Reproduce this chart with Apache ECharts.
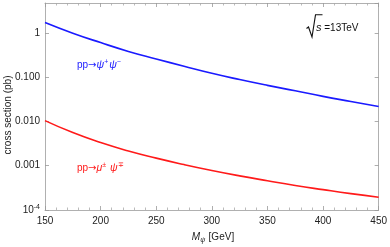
<!DOCTYPE html>
<html>
<head>
<meta charset="utf-8">
<script src="https://cdn.jsdelivr.net/npm/echarts@6/dist/echarts.min.js"></script>
<style>html,body{margin:0;padding:0;background:#fff}#c{width:390px;height:247px}</style>
</head>
<body>
<div id="c"></div>
<script>
var masses = [150, 175, 200, 225, 250, 275, 300, 325, 350, 375, 400, 425, 450];
var sigmaPair = [1.71, 0.98, 0.60, 0.38, 0.257, 0.176, 0.122, 0.088, 0.065, 0.049, 0.0367, 0.0281, 0.0216];
var sigmaAssoc = [0.0104, 0.00558, 0.00332, 0.00214, 0.00148, 0.00106, 0.00078, 0.00059, 0.000457, 0.000358, 0.000288, 0.000234, 0.000194];
var xTicks = [150, 200, 250, 300, 350, 400, 450];
var yTickLabels = {'0': '1', '-1': '0.100', '-2': '0.010', '-3': '0.001', '-4': '{b|10}{sup|-4}'};

var FONT = 'Liberation Sans';
var chart = echarts.init(document.getElementById('c'));
function pts(ys) { return masses.map(function (m, i) { return [m, ys[i]]; }); }
var frame = '#b0b0b0';
var tickStyle = { show: true, inside: true, length: 4, lineStyle: { color: '#999', width: 0.8 } };
var minorStyle = { show: true, splitNumber: 5, length: 2.5, lineStyle: { color: '#aaa', width: 0.8 } };
var BLUE = '#1a1aff', RED = '#ff1a1a';

function procRich(col) {
  return {
    n: { fontFamily: FONT, fontSize: 10, fill: col },
    a: { fontFamily: 'DejaVu Sans', fontSize: 10, fill: col },
    i: { fontFamily: FONT, fontSize: 10.5, fontStyle: 'italic', fill: col },
    p: { fontFamily: FONT, fontSize: 7, fill: col, verticalAlign: 'top', padding: [0, 1, 6, 0] }
  };
}

chart.setOption({
  animation: false,
  grid: { left: 45, right: 9, top: 3, bottom: 37 },
  xAxis: [{
    type: 'value', min: 150, max: 450, interval: 50,
    axisLine: { show: true, lineStyle: { color: frame, width: 1 } },
    axisTick: tickStyle, minorTick: minorStyle,
    splitLine: { show: false },
    axisLabel: { color: '#222', fontFamily: FONT, fontSize: 10, margin: 6,
      formatter: function (v) { return xTicks.indexOf(v) >= 0 ? String(v) : ''; } }
  }, {
    type: 'value', min: 150, max: 450, interval: 50, position: 'top',
    axisLine: { show: true, lineStyle: { color: frame, width: 1 } },
    axisTick: tickStyle, minorTick: minorStyle,
    splitLine: { show: false }, axisLabel: { show: false }
  }],
  yAxis: [{
    type: 'log', logBase: 10, min: 1e-4, max: 4.7,
    axisLine: { show: true, lineStyle: { color: frame, width: 1 } },
    axisTick: tickStyle, splitLine: { show: false },
    axisLabel: {
      color: '#222', fontFamily: FONT, fontSize: 10, margin: 5,
      showMaxLabel: false,
      formatter: function (v) {
        var k = Math.round(Math.log10(v));
        if (Math.abs(Math.log10(v) - k) > 1e-6) return '';
        return yTickLabels[String(k)] || '';
      },
      rich: {
        b: { fontFamily: FONT, fontSize: 10, color: '#222' },
        sup: { fontFamily: FONT, fontSize: 7, color: '#222', verticalAlign: 'top', padding: [0, 0, 6, 0] }
      }
    }
  }, {
    type: 'log', logBase: 10, min: 1e-4, max: 4.7, position: 'right',
    axisLine: { show: true, lineStyle: { color: frame, width: 1 } },
    axisTick: tickStyle, splitLine: { show: false }, axisLabel: { show: false }
  }],
  series: [{
    type: 'line', data: pts(sigmaPair), smooth: true, showSymbol: false,
    lineStyle: { color: BLUE, width: 1.6 }
  }, {
    type: 'line', data: pts(sigmaAssoc), smooth: true, showSymbol: false,
    lineStyle: { color: RED, width: 1.6 }
  }],
  graphic: [
    { type: 'text', x: 8, y: 115, rotation: Math.PI / 2,
      style: { text: 'cross section (pb)', fontFamily: FONT, fontSize: 10, fill: '#222', align: 'center', verticalAlign: 'middle' } },
    { type: 'text', x: 213, y: 237,
      style: { text: '{i|M}{s|ψ} {n|[GeV]}', align: 'center', verticalAlign: 'middle',
        rich: { i: { fontFamily: FONT, fontSize: 10, fontStyle: 'italic', fill: '#222' },
                s: { fontFamily: FONT, fontSize: 7, fontStyle: 'italic', fill: '#222', verticalAlign: 'bottom', padding: [6, 0, 0, 0] },
                n: { fontFamily: FONT, fontSize: 10, fill: '#222' } } } },
    { type: 'text', x: 77, y: 65,
      style: { text: '{n|pp}{a|→}{i|ψ}{p|+}{i|ψ}{p|−}', verticalAlign: 'middle', rich: procRich(BLUE) } },
    { type: 'text', x: 77, y: 168,
      style: { text: '{n|pp}{a|→}{i|μ}{p|±}{i| ψ}{p|∓}', verticalAlign: 'middle', rich: procRich(RED) } },
    { type: 'polyline', shape: { points: [[306.5, 28.5], [308.5, 27], [312, 37], [315.5, 14.8], [322.5, 14.8]] },
      style: { stroke: '#111', lineWidth: 1.1, fill: null } },
    { type: 'text', x: 316, y: 28,
      style: { text: '{i|s}{n| =13TeV}', verticalAlign: 'middle',
        rich: { i: { fontFamily: FONT, fontSize: 11, fontStyle: 'italic', fill: '#111' },
                n: { fontFamily: FONT, fontSize: 10, fill: '#111' } } } }
  ]
});
</script>
</body>
</html>
